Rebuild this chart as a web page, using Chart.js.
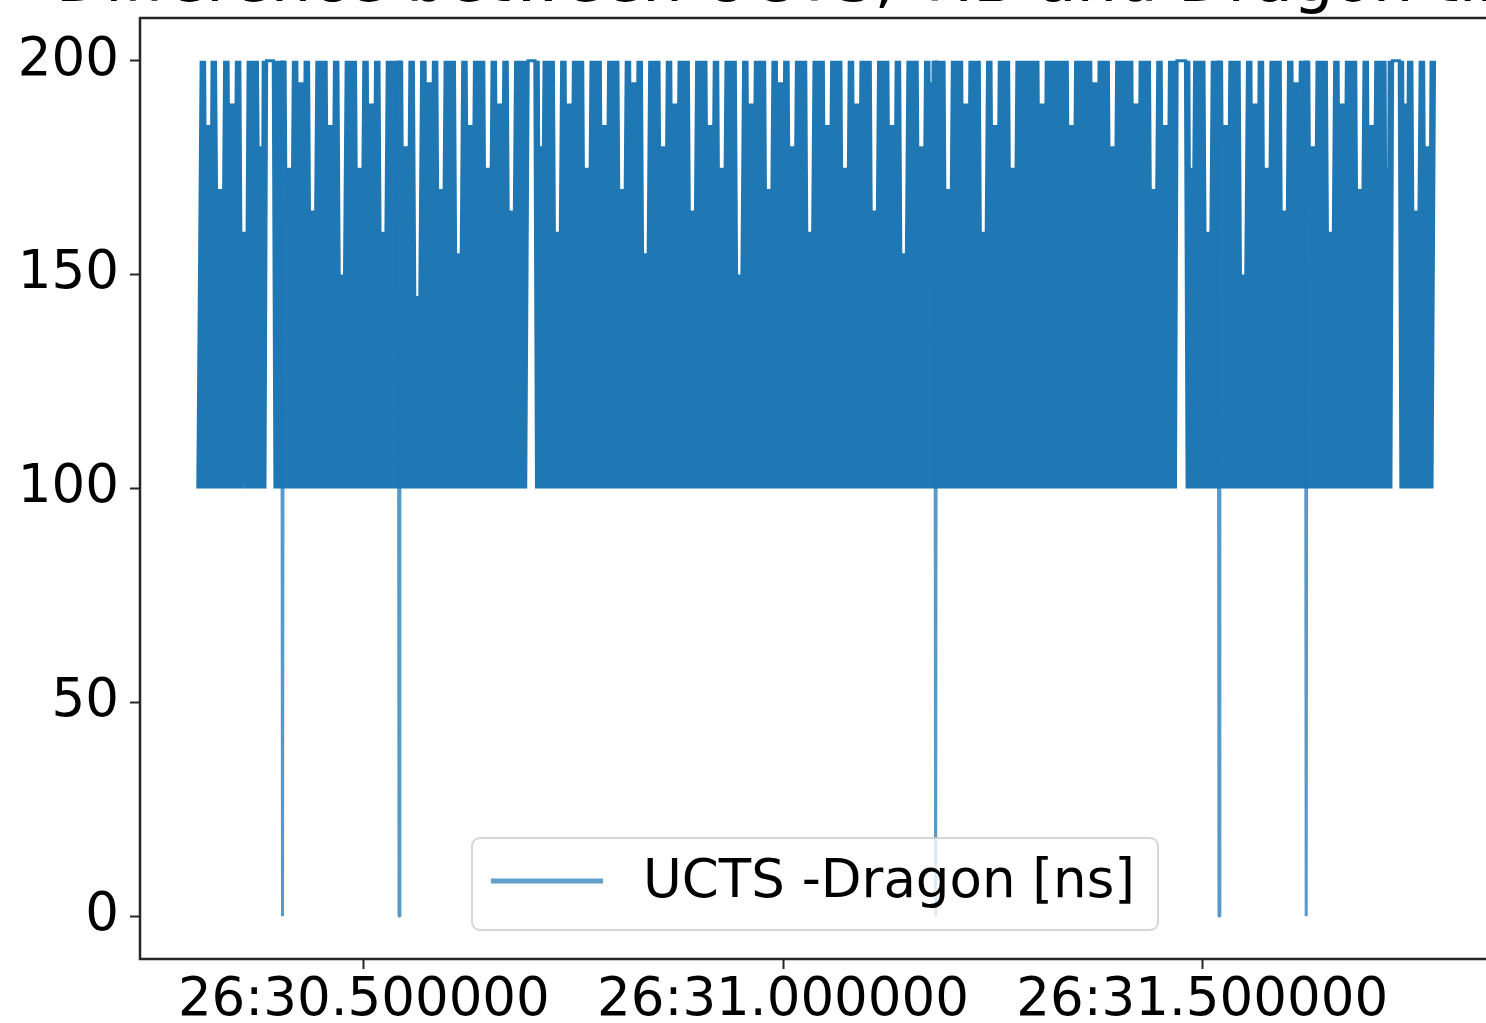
<!DOCTYPE html>
<html>
<head>
<meta charset="utf-8">
<title>UCTS - Dragon</title>
<script src="https://cdn.jsdelivr.net/npm/chart.js@4"></script>
<style>
  html, body { margin: 0; padding: 0; background: #fff; overflow: hidden; }
  canvas { display: block; }
</style>
</head>
<body>
<canvas id="chart" width="1500" height="1023"></canvas>
<script>
// sample time, in ms after 26:30.000000
const SAMPLE_MS = [
  304, 308, 311, 314, 318, 321, 325, 329, 332, 336,
  339, 343, 346, 350, 353, 357, 361, 364, 368, 371,
  375, 378, 380, 382, 394, 396, 398, 400, 402, 403,
  404, 407, 411, 414, 418, 421, 425, 428, 432, 435,
  439, 442, 446, 449, 453, 456, 460, 463, 467, 470,
  474, 477, 481, 484, 488, 491, 495, 498, 502, 505,
  509, 512, 516, 519, 523, 526, 530, 533, 537, 540,
  541, 542, 543, 546, 550, 553, 557, 560, 564, 567,
  571, 574, 578, 581, 585, 588, 592, 595, 599, 602,
  606, 609, 613, 616, 620, 623, 627, 630, 634, 637,
  641, 644, 648, 651, 655, 658, 662, 665, 669, 672,
  676, 679, 683, 686, 689, 691, 694, 706, 708, 710,
  713, 717, 720, 724, 727, 731, 734, 738, 741, 745,
  748, 752, 755, 759, 762, 766, 769, 773, 776, 780,
  783, 787, 790, 794, 797, 801, 804, 808, 811, 815,
  818, 822, 825, 829, 832, 836, 839, 843, 846, 850,
  853, 857, 860, 864, 867, 871, 874, 878, 881, 885,
  888, 892, 895, 899, 902, 906, 909, 913, 916, 920,
  923, 927, 930, 934, 937, 941, 944, 948, 951, 955,
  958, 962, 965, 969, 972, 976, 979, 983, 986, 990,
  993, 997, 1000, 1004, 1007, 1011, 1014, 1018, 1021, 1025,
  1028, 1032, 1035, 1039, 1042, 1046, 1049, 1053, 1056, 1060,
  1063, 1067, 1070, 1074, 1077, 1081, 1084, 1088, 1091, 1095,
  1098, 1102, 1105, 1109, 1112, 1116, 1119, 1123, 1126, 1130,
  1133, 1137, 1140, 1144, 1147, 1151, 1154, 1158, 1161, 1165,
  1168, 1172, 1175, 1179, 1180, 1181, 1182, 1183, 1186, 1190,
  1193, 1197, 1200, 1204, 1207, 1211, 1214, 1218, 1221, 1225,
  1228, 1232, 1235, 1239, 1242, 1246, 1249, 1253, 1256, 1260,
  1263, 1267, 1270, 1274, 1277, 1281, 1284, 1288, 1291, 1295,
  1298, 1302, 1305, 1309, 1312, 1316, 1319, 1323, 1326, 1330,
  1333, 1337, 1340, 1344, 1347, 1351, 1354, 1358, 1361, 1365,
  1368, 1372, 1375, 1379, 1382, 1386, 1389, 1393, 1396, 1400,
  1403, 1407, 1410, 1414, 1417, 1421, 1424, 1428, 1431, 1435,
  1438, 1442, 1445, 1449, 1452, 1456, 1459, 1463, 1466, 1468,
  1482, 1484, 1487, 1489, 1493, 1496, 1500, 1503, 1507, 1510,
  1514, 1517, 1519, 1520, 1521, 1524, 1528, 1531, 1535, 1538,
  1542, 1545, 1549, 1552, 1556, 1559, 1563, 1566, 1570, 1573,
  1577, 1580, 1584, 1587, 1591, 1594, 1598, 1601, 1605, 1608,
  1612, 1615, 1619, 1622, 1623, 1624, 1625, 1628, 1632, 1635,
  1639, 1642, 1646, 1649, 1653, 1656, 1660, 1663, 1667, 1670,
  1674, 1677, 1681, 1684, 1688, 1691, 1695, 1698, 1702, 1705,
  1709, 1712, 1716, 1718, 1721, 1723, 1725, 1737, 1739, 1741,
  1744, 1748, 1751, 1755, 1758, 1762, 1765, 1769, 1772, 1775
];

// UCTS - Dragon difference [ns]
const UCTS_DRAGON_NS = [
  100, 200, 100, 185, 100, 200, 100, 170, 100, 200,
  100, 190, 100, 200, 100, 160, 100, 200, 100, 200,
  100, 180, 100, 200, 200, 100, 200, 100, 200, 0,
  200, 100, 175, 100, 200, 100, 195, 100, 200, 100,
  165, 100, 200, 100, 200, 100, 185, 100, 200, 100,
  150, 100, 200, 100, 200, 100, 175, 100, 200, 100,
  190, 100, 200, 100, 160, 100, 200, 100, 200, 100,
  200, 0, 200, 100, 180, 100, 200, 100, 145, 100,
  200, 100, 195, 100, 200, 100, 170, 100, 200, 100,
  200, 100, 155, 100, 200, 100, 185, 100, 200, 100,
  200, 100, 175, 100, 200, 100, 190, 100, 200, 100,
  165, 100, 200, 100, 200, 100, 200, 200, 100, 180,
  100, 200, 100, 200, 100, 160, 100, 200, 100, 190,
  100, 200, 100, 200, 100, 175, 100, 200, 100, 200,
  100, 185, 100, 200, 100, 200, 100, 170, 100, 200,
  100, 195, 100, 200, 100, 155, 100, 200, 100, 200,
  100, 180, 100, 200, 100, 190, 100, 200, 100, 200,
  100, 165, 100, 200, 100, 200, 100, 185, 100, 200,
  100, 175, 100, 200, 100, 200, 100, 150, 100, 200,
  100, 190, 100, 200, 100, 200, 100, 170, 100, 200,
  100, 195, 100, 200, 100, 180, 100, 200, 100, 200,
  100, 160, 100, 200, 100, 200, 100, 185, 100, 200,
  100, 200, 100, 175, 100, 200, 100, 190, 100, 200,
  100, 200, 100, 165, 100, 200, 100, 200, 100, 185,
  100, 200, 100, 155, 100, 200, 100, 200, 100, 180,
  100, 200, 100, 195, 100, 200, 0, 200, 100, 200,
  100, 170, 100, 200, 100, 200, 100, 190, 100, 200,
  100, 200, 100, 160, 100, 200, 100, 185, 100, 200,
  100, 200, 100, 175, 100, 200, 100, 200, 100, 200,
  100, 200, 100, 190, 100, 200, 100, 200, 100, 200,
  100, 200, 100, 185, 100, 200, 100, 200, 100, 200,
  100, 195, 100, 200, 100, 200, 100, 180, 100, 200,
  100, 200, 100, 200, 100, 190, 100, 200, 100, 200,
  100, 170, 100, 200, 100, 185, 100, 200, 100, 200,
  200, 100, 175, 100, 200, 100, 200, 100, 160, 100,
  200, 100, 200, 0, 200, 100, 185, 100, 200, 100,
  200, 100, 150, 100, 200, 100, 190, 100, 200, 100,
  175, 100, 200, 100, 200, 100, 165, 100, 200, 100,
  195, 100, 200, 100, 200, 0, 200, 100, 180, 100,
  200, 100, 200, 100, 160, 100, 200, 100, 190, 100,
  200, 100, 200, 100, 170, 100, 200, 100, 185, 100,
  200, 100, 200, 100, 175, 100, 200, 200, 100, 190,
  100, 200, 100, 165, 100, 200, 100, 180, 100, 200
];

const X_TICKS = [500, 1000, 1500];
const Y_TICKS = [0, 50, 100, 150, 200];
const SERIES_LABEL = "UCTS -Dragon [ns]";
const TITLE = "Difference between UCTS, TIB and Dragon time";

const FONT = "'DejaVu Sans', 'Liberation Sans', sans-serif";
const BLUE = "#1f77b4";
const SPIKE_BLUE = "rgba(31,119,180,0.75)";
const SPINE = "#262626";

function fmtTime(ms) {
  const sec = 30 + ms / 1000;
  return "26:" + sec.toFixed(6);
}

const points = SAMPLE_MS.map((t, i) => ({ x: t, y: UCTS_DRAGON_NS[i] }));

// segments dropping below the 100 ns floor are drawn thinner,
// and so are flat runs, so they do not poke above the band
const isDrop = (c) => c.p0.parsed.y < 100 || c.p1.parsed.y < 100;
const isFlat = (c) => c.p0.parsed.y === c.p1.parsed.y;

// axes frame, title and legend drawn the matplotlib way
const decorations = {
  id: "decorations",
  afterDraw(chart) {
    const { ctx, chartArea } = chart;
    ctx.save();

    ctx.strokeStyle = SPINE;
    ctx.lineWidth = 2.5;
    ctx.strokeRect(chartArea.left, chartArea.top,
      chartArea.right - chartArea.left, chartArea.bottom - chartArea.top);

    ctx.fillStyle = "#000";
    ctx.font = "64px " + FONT;
    ctx.textAlign = "center";
    ctx.textBaseline = "alphabetic";
    ctx.fillText(TITLE, (chartArea.left + chartArea.right) / 2, 1);

    // legend box
    const bx = 472, by = 838, bw = 686, bh = 92, r = 8;
    ctx.beginPath();
    ctx.moveTo(bx + r, by);
    ctx.arcTo(bx + bw, by, bx + bw, by + bh, r);
    ctx.arcTo(bx + bw, by + bh, bx, by + bh, r);
    ctx.arcTo(bx, by + bh, bx, by, r);
    ctx.arcTo(bx, by, bx + bw, by, r);
    ctx.closePath();
    ctx.fillStyle = "rgba(255,255,255,0.8)";
    ctx.fill();
    ctx.strokeStyle = "rgba(204,204,204,0.8)";
    ctx.lineWidth = 2;
    ctx.stroke();

    const ds = chart.data.datasets[0];
    ctx.globalAlpha = 0.7;
    ctx.strokeStyle = ds.borderColor;
    ctx.lineWidth = 5;
    ctx.beginPath();
    ctx.moveTo(491, 881);
    ctx.lineTo(603, 881);
    ctx.stroke();
    ctx.globalAlpha = 1;

    ctx.fillStyle = "#000";
    ctx.font = "53px " + FONT;
    ctx.textAlign = "left";
    ctx.textBaseline = "middle";
    ctx.fillText(ds.label, 643, 883);
    ctx.restore();
  },
};

new Chart(document.getElementById("chart"), {
  type: "line",
  data: {
    datasets: [
      {
        label: SERIES_LABEL,
        data: points,
        borderColor: BLUE,
        borderWidth: 6.5,
        borderJoinStyle: "bevel",
        pointRadius: 0,
        tension: 0,
        fill: false,
        segment: {
          borderWidth: (c) => (isDrop(c) || isFlat(c) ? 3 : 6.5),
          borderColor: (c) => (isDrop(c) ? SPIKE_BLUE : BLUE),
        },
      },
    ],
  },
  options: {
    responsive: false,
    animation: false,
    devicePixelRatio: 1,
    layout: { padding: { top: 18, left: 0, right: 6, bottom: 0 } },
    plugins: {
      legend: { display: false },
      title: { display: false },
      tooltip: { enabled: false },
    },
    scales: {
      x: {
        type: "linear",
        min: 233,
        max: 1848,
        afterBuildTicks: (scale) => {
          scale.ticks = X_TICKS.map((v) => ({ value: v }));
        },
        afterFit: (scale) => {
          scale.height = 64;
          scale.paddingLeft = 0;
          scale.paddingRight = 0;
        },
        border: { display: false },
        grid: {
          drawOnChartArea: false,
          drawTicks: true,
          tickLength: 10,
          tickWidth: 2,
          tickColor: SPINE,
        },
        ticks: {
          color: "#000",
          font: { family: FONT, size: 53 },
          padding: 0,
          maxRotation: 0,
          callback: (v) => fmtTime(v),
        },
      },
      y: {
        type: "linear",
        min: -10,
        max: 210,
        afterBuildTicks: (scale) => {
          scale.ticks = Y_TICKS.map((v) => ({ value: v }));
        },
        afterFit: (scale) => {
          scale.width = 140;
          scale.paddingTop = 0;
          scale.paddingBottom = 0;
        },
        border: { display: false },
        grid: {
          drawOnChartArea: false,
          drawTicks: true,
          tickLength: 10,
          tickWidth: 2,
          tickColor: SPINE,
        },
        ticks: {
          color: "#000",
          font: { family: FONT, size: 53 },
          padding: 11,
          callback: (v) => String(v),
        },
      },
    },
  },
  plugins: [decorations],
});
</script>
</body>
</html>
